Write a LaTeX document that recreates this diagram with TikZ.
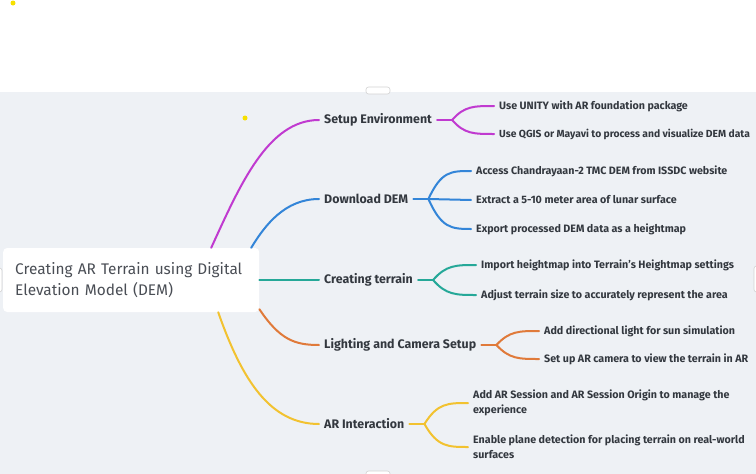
\documentclass[tikz,border=0pt]{standalone}
\usepackage{fontspec}
\setmainfont{Fira Sans}
\definecolor{bgcol}{HTML}{EEF1F5}
\definecolor{txtcol}{HTML}{33383F}
\definecolor{rootcol}{HTML}{4A4E55}
\definecolor{cmag}{HTML}{C03AD0}
\definecolor{cblue}{HTML}{3385D8}
\definecolor{cteal}{HTML}{25A898}
\definecolor{corange}{HTML}{E07A3A}
\definecolor{cyellow}{HTML}{F2C230}
\definecolor{dotcol}{HTML}{F7E000}
\tikzset{
	rootbox/.style={fill=white, rounded corners=4pt, anchor=west, minimum height=64pt, text width=232pt, inner xsep=12pt, align=left, text=rootcol, font=\fontsize{15.4}{21}\selectfont},
	topic/.style={inner sep=0pt, anchor=west, text=txtcol, font=\fontsize{12.4}{14}\selectfont\bfseries},
	leaf/.style={inner sep=0pt, anchor=west, text=txtcol, align=left, font=\fontsize{10.7}{15}\selectfont\bfseries},
	branch/.style={line width=2pt, line cap=round},
	handle/.style={draw=gray!35, fill=white, line width=0.6pt, rounded corners=2.5pt}
}

\begin{document}
\begin{tikzpicture}[x=1pt, y=-1pt]
	\useasboundingbox (0,0) rectangle (756,474);
	% Draw canvas
	\fill[bgcol] (0,92) rectangle (756,474);
	\draw[handle] (366,87) rectangle (390,94);
	\draw[handle] (366,471) rectangle (390,478);
	\draw[handle] (-5,268) rectangle (2,292);
	\draw[handle] (754,266) rectangle (761,292);
	\fill[dotcol] (13,3) circle (2.5);
	\fill[dotcol] (245,118) circle (2.5);

	% Root and topics
	\node[rootbox] (root) at (3,280) {Creating AR Terrain using Digital\\Elevation Model (DEM)};
	\node[topic] (env) at (324,120) {Setup Environment};
	\node[topic] (dem) at (324,199) {Download DEM};
	\node[topic] (ter) at (324,280) {Creating terrain};
	\node[topic] (lig) at (324,345) {Lighting and Camera Setup};
	\node[topic] (ari) at (324,424) {AR Interaction};

	% Leaves
	\node[leaf] (env1) at (499,106) {Use UNITY with AR foundation package};
	\node[leaf, font=\fontsize{10.3}{15}\selectfont\bfseries] (env2) at (499,134) {Use QGIS or Mayavi to process and visualize DEM data};
	\node[leaf] (dem1) at (476,171) {Access Chandrayaan-2 TMC DEM from ISSDC website};
	\node[leaf] (dem2) at (476,200) {Extract a 5-10 meter area of lunar surface};
	\node[leaf] (dem3) at (476,229) {Export processed DEM data as a heightmap};
	\node[leaf] (ter1) at (481,265) {Import heightmap into Terrain's Heightmap settings};
	\node[leaf] (ter2) at (481,295) {Adjust terrain size to accurately represent the area};
	\node[leaf] (lig1) at (544,331) {Add directional light for sun simulation};
	\node[leaf] (lig2) at (544,359) {Set up AR camera to view the terrain in AR};
	\node[leaf] (ari1) at (473,403) {Add AR Session and AR Session Origin to manage the\\experience};
	\node[leaf] (ari2) at (473,447) {Enable plane detection for placing terrain on real-world\\surfaces};

	% Main branches
	\draw[branch, cmag] ([xshift=80pt]root.north) .. controls (240,185) and (268,120) .. ([xshift=-5pt]env.west);
	\draw[branch, cblue] ([xshift=120pt]root.north) .. controls (265,225) and (285,199) .. ([xshift=-5pt]dem.west);
	\draw[branch, cteal] (root.east) -- ([xshift=-5pt]ter.west);
	\draw[branch, corange] ([yshift=3pt]root.south east) .. controls (280,340) and (295,345) .. ([xshift=-5pt]lig.west);
	\draw[branch, cyellow] ([xshift=87pt]root.south) .. controls (242,380) and (270,424) .. ([xshift=-5pt]ari.west);

	% Forks
	% Setup Environment
	\draw[branch, cmag] ([xshift=5pt]env.east) -- ([xshift=20pt]env.east);
	\draw[branch, cmag] ([xshift=20pt]env.east) .. controls +(12,-14) and +(-20,0) .. ([xshift=-5pt]env1.west);
	\draw[branch, cmag] ([xshift=20pt]env.east) .. controls +(12,14) and +(-20,0) .. ([xshift=-5pt]env2.west);
	% Download DEM
	\draw[branch, cblue] ([xshift=5pt]dem.east) -- ([xshift=20pt]dem.east);
	\draw[branch, cblue] ([xshift=20pt]dem.east) .. controls +(13,-28) and +(-20,0) .. ([xshift=-5pt]dem1.west);
	\draw[branch, cblue] ([xshift=20pt]dem.east) -- ([xshift=-5pt]dem2.west);
	\draw[branch, cblue] ([xshift=20pt]dem.east) .. controls +(13,29) and +(-20,0) .. ([xshift=-5pt]dem3.west);
	% Creating terrain
	\draw[branch, cteal] ([xshift=5pt]ter.east) -- ([xshift=20pt]ter.east);
	\draw[branch, cteal] ([xshift=20pt]ter.east) .. controls +(13,-15) and +(-20,0) .. ([xshift=-5pt]ter1.west);
	\draw[branch, cteal] ([xshift=20pt]ter.east) .. controls +(13,15) and +(-20,0) .. ([xshift=-5pt]ter2.west);
	% Lighting and Camera Setup
	\draw[branch, corange] ([xshift=5pt]lig.east) -- ([xshift=20pt]lig.east);
	\draw[branch, corange] ([xshift=20pt]lig.east) .. controls +(13,-14) and +(-20,0) .. ([xshift=-5pt]lig1.west);
	\draw[branch, corange] ([xshift=20pt]lig.east) .. controls +(13,14) and +(-20,0) .. ([xshift=-5pt]lig2.west);
	% AR Interaction
	\draw[branch, cyellow] ([xshift=5pt]ari.east) -- ([xshift=20pt]ari.east);
	\draw[branch, cyellow] ([xshift=20pt]ari.east) .. controls +(13,-21) and +(-20,0) .. ([xshift=-5pt]ari1.west);
	\draw[branch, cyellow] ([xshift=20pt]ari.east) .. controls +(13,23) and +(-20,0) .. ([xshift=-5pt]ari2.west);
\end{tikzpicture}
\end{document}
